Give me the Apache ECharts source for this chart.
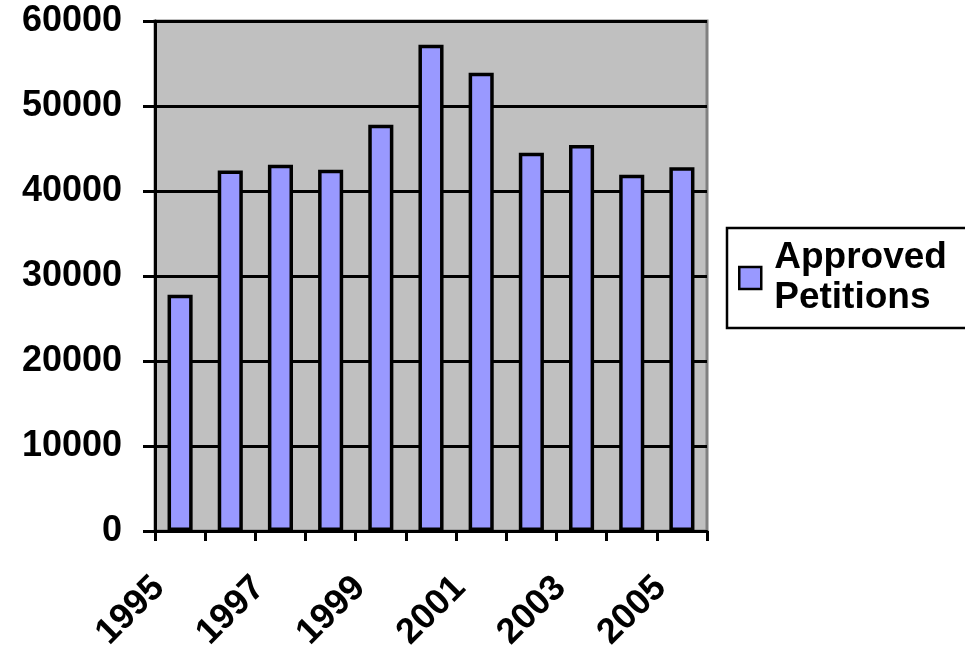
<!DOCTYPE html>
<html>
<head>
<meta charset="utf-8">
<script src="https://cdn.jsdelivr.net/npm/echarts@6/dist/echarts.min.js"></script>
<style>
  html, body { margin: 0; padding: 0; background: #fff; }
  #chart { width: 965px; height: 651px; }
</style>
</head>
<body>
<div id="chart"></div>
<script>
// approved petitions per year
var years = ['1995', '1996', '1997', '1998', '1999', '2000', '2001', '2002', '2003', '2004', '2005'];
var approved = [27800, 42400, 43100, 42500, 47800, 57200, 53900, 44500, 45400, 41900, 42800];
var yTicks = [0, 10000, 20000, 30000, 40000, 50000, 60000];

var chart = echarts.init(document.getElementById('chart'));

var font = 'Arial, "Liberation Sans", sans-serif';

var option = {
  animation: false,
  grid: {
    left: 155,
    right: 258,
    top: 21,
    bottom: 120,
    outerBoundsMode: 'none',
    show: true,
    backgroundColor: '#c0c0c0',
    borderColor: '#808080',
    borderWidth: 3
  },
  legend: {
    left: 727,
    top: 228,
    orient: 'vertical',
    padding: [10, 22, 10, 11],
    backgroundColor: '#fff',
    borderColor: '#000',
    borderWidth: 2.5,
    borderRadius: 0,
    itemWidth: 22,
    itemHeight: 22,
    itemGap: 0,
    icon: 'rect',
    itemStyle: { borderColor: '#000', borderWidth: 2.5 },
    formatter: function () { return 'Approved\nPetitions'; },
    textStyle: {
      fontFamily: font,
      fontWeight: 'bold',
      fontSize: 37,
      lineHeight: 40,
      padding: [0, 0, 0, 8],
      color: '#000'
    }
  },
  xAxis: {
    type: 'category',
    data: years,
    axisLine: { lineStyle: { color: '#000', width: 3 } },
    axisTick: { show: true, length: 10, interval: 0, lineStyle: { color: '#000', width: 3 } },
    axisLabel: {
      interval: 1,
      rotate: 45,
      margin: 30,
      padding: [0, 30, 0, 0],
      fontFamily: font,
      fontWeight: 'bold',
      fontSize: 36,
      color: '#000'
    },
    splitLine: { show: false }
  },
  yAxis: {
    type: 'value',
    min: yTicks[0],
    max: yTicks[yTicks.length - 1],
    interval: 10000,
    axisLine: { show: true, lineStyle: { color: '#000', width: 3 } },
    axisTick: { show: true, length: 12, lineStyle: { color: '#000', width: 3 } },
    axisLabel: {
      margin: 33,
      fontFamily: font,
      fontWeight: 'bold',
      fontSize: 36,
      color: '#000',
      formatter: function (v) { return String(v); }
    },
    splitLine: { show: true, lineStyle: { color: '#000', width: 3 } }
  },
  series: [
    {
      name: 'Approved Petitions',
      type: 'bar',
      data: approved,
      barWidth: '50%',
      itemStyle: {
        color: '#9999ff',
        borderColor: '#000',
        borderWidth: 3.5
      }
    }
  ]
};

chart.setOption(option);
</script>
</body>
</html>
